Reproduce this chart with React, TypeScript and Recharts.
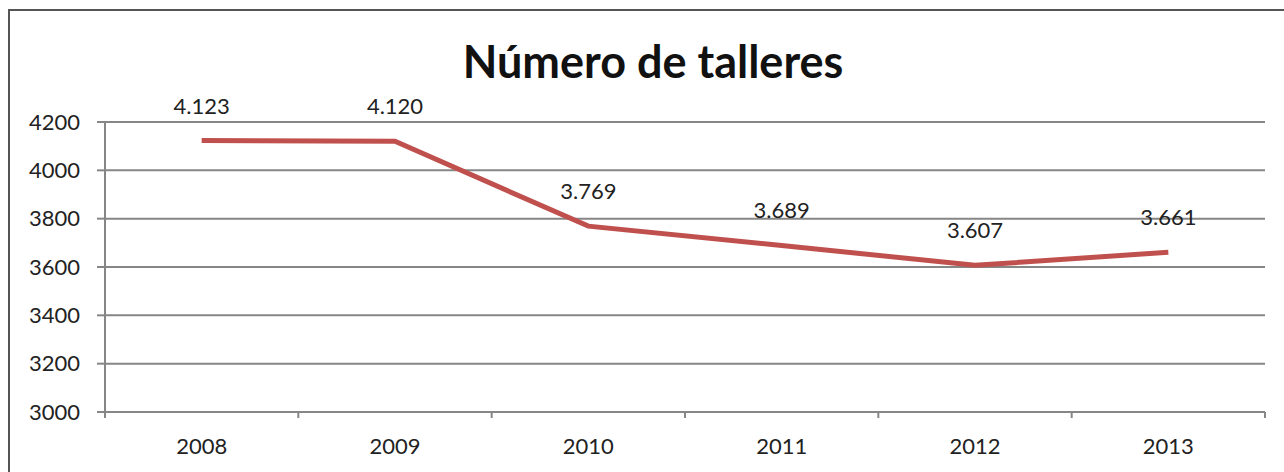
import { LineChart, Line, XAxis, YAxis, CartesianGrid, LabelList } from 'recharts'

const years = ['2008', '2009', '2010', '2011', '2012', '2013']
const talleres = [4123, 4120, 3769, 3689, 3607, 3661]
const yTicks = [3000, 3200, 3400, 3600, 3800, 4000, 4200]

const data = years.map((year, i) => ({ year, talleres: talleres[i] }))

const W = 1284
const H = 472
const PLOT_LEFT = 105
const PLOT_RIGHT = 1265
const BAND = (PLOT_RIGHT - PLOT_LEFT) / years.length
const FONT = 'Lato, "Open Sans", sans-serif'
const AXIS = '#868686'

const fmt = (v: number) => v.toString().replace(/\B(?=(\d{3})+(?!\d))/g, '.')

function XTick({ x, y, payload, index }: any) {
  const last = index === years.length - 1
  return (
    <g>
      <line x1={x - BAND / 2} y1={y - 8} x2={x - BAND / 2} y2={y - 2} stroke={AXIS} strokeWidth={2} />
      {last && <line x1={x + BAND / 2} y1={y - 8} x2={x + BAND / 2} y2={y - 2} stroke={AXIS} strokeWidth={2} />}
      <text x={x} y={y + 34} textAnchor="middle" fontSize={22} fill="#222" fontFamily={FONT}>
        {payload.value}
      </text>
    </g>
  )
}

function ValueLabel({ x, y, value }: any) {
  return (
    <text x={x} y={y - 27} textAnchor="middle" fontSize={22} fill="#222" fontFamily={FONT}>
      {fmt(value)}
    </text>
  )
}

export default function App() {
  return (
    <div style={{ position: 'absolute', left: 0, top: 0, width: W, height: H, background: '#fff', overflow: 'hidden' }}>
      <div style={{ position: 'absolute', left: 8, top: 9, width: W, height: H, border: '2px solid #555', boxSizing: 'border-box' }} />
      <div
        style={{
          position: 'absolute', left: 0, top: 33, width: 1306, textAlign: 'center',
          fontFamily: FONT, fontWeight: 700, fontSize: 45, color: '#111', lineHeight: '56px',
        }}
      >
        Número de talleres
      </div>
      <div style={{ position: 'absolute', left: 0, top: 0 }}>
        <LineChart width={W} height={H} data={data} margin={{ top: 122, right: W - PLOT_RIGHT, left: 5, bottom: 0 }}>
          <CartesianGrid vertical={false} stroke={AXIS} strokeWidth={2} />
          <XAxis
            dataKey="year"
            height={60}
            padding={{ left: BAND / 2, right: BAND / 2 }}
            axisLine={{ stroke: AXIS, strokeWidth: 2 }}
            tickLine={false}
            tick={<XTick />}
            interval={0}
          />
          <YAxis
            width={PLOT_LEFT - 5}
            domain={[3000, 4200]}
            ticks={yTicks}
            axisLine={{ stroke: AXIS, strokeWidth: 2 }}
            tickLine={{ stroke: AXIS, strokeWidth: 2 }}
            tickSize={8}
            tickMargin={17}
            tick={{ fontSize: 22, fill: '#222', fontFamily: FONT }}
          />
          <Line
            type="linear"
            dataKey="talleres"
            stroke="#C0504D"
            strokeWidth={5}
            dot={false}
            isAnimationActive={false}
          >
            <LabelList dataKey="talleres" content={<ValueLabel />} />
          </Line>
        </LineChart>
      </div>
    </div>
  )
}
